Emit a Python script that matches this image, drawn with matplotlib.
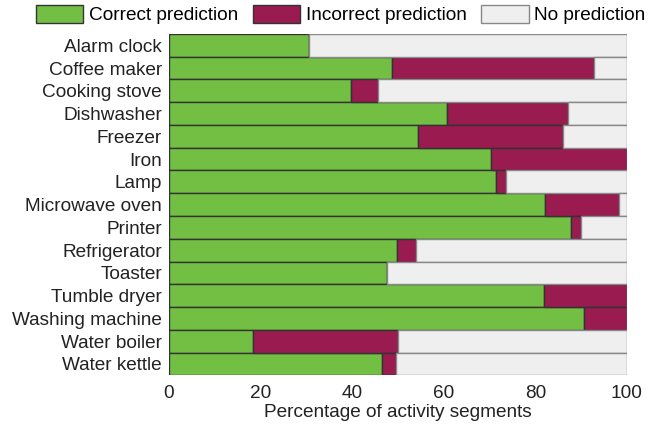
import numpy as np
import matplotlib
matplotlib.use("Agg")
from matplotlib import pyplot as plt

plt.rcParams['font.family'] = ['Liberation Sans', 'DejaVu Sans']

# values (percent of activity segments)
appliances = ['Alarm clock', 'Coffee maker', 'Cooking stove', 'Dishwasher', 'Freezer',
              'Iron', 'Lamp', 'Microwave oven', 'Printer', 'Refrigerator', 'Toaster',
              'Tumble dryer', 'Washing machine', 'Water boiler', 'Water kettle']
correct = [30.6, 48.8, 39.7, 60.6, 54.3, 70.4, 71.4, 82.2, 87.8, 49.8, 47.7, 81.9, 90.6, 18.4, 46.6]
incorrect = [0.0, 43.9, 5.9, 26.5, 31.8, 29.6, 2.1, 16.1, 2.1, 4.2, 0.0, 18.1, 9.4, 31.5, 3.0]
none = [100 - c - i for c, i in zip(correct, incorrect)]

green = '#72bf44'
red = '#9a1b4f'
grey = '#efefef'

fig = plt.figure(figsize=(6.49, 4.29), dpi=100)
ax = fig.add_axes([0.2604, 0.125, 0.7056, 0.796])

y = np.arange(len(appliances))
ax.barh(y, correct, height=1.0, color=green, edgecolor='#333333', linewidth=1.0, label='Correct prediction')
ax.barh(y, incorrect, left=correct, height=1.0, color=red, edgecolor='#333333', linewidth=1.0,
        label='Incorrect prediction')
left2 = [c + i for c, i in zip(correct, incorrect)]
ax.barh(y, none, left=left2, height=1.0, color=grey, edgecolor='#888888', linewidth=1.0,
        label='No prediction')

fs = 13.7
ax.set_xlim(0, 100)
ax.set_ylim(len(appliances) - 0.5, -0.5)
ax.set_yticks(y)
ax.set_yticklabels(appliances)
ax.set_xticks([0, 20, 40, 60, 80, 100])
ax.tick_params(length=0, labelsize=fs, colors='#222222')
ax.tick_params(axis='x', pad=7)
ax.tick_params(axis='y', pad=5)
for s in ax.spines.values():
    s.set_visible(False)
ax.set_xlabel('Percentage of activity segments', fontsize=fs, color='#222222', labelpad=1.5)

fig.legend(loc='center', bbox_to_anchor=(0.525, 0.966), ncol=3, frameon=False, fontsize=fs,
           handlelength=2.5, handleheight=1.05, handletextpad=0.3, columnspacing=0.75,
           borderaxespad=0, borderpad=0)

fig.savefig('out.png', dpi=100)
